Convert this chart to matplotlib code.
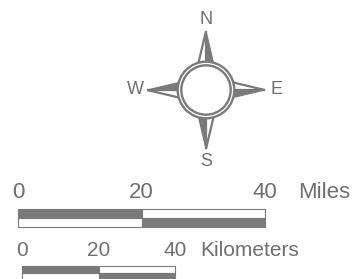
import numpy as np
from matplotlib import pyplot as plt
from matplotlib.patches import Polygon, Circle, Rectangle

plt.rcParams["font.family"] = ["Liberation Sans", "DejaVu Sans"]

# data
directions = ["N", "E", "S", "W"]
dir_vectors = [(0, -1), (1, 0), (0, 1), (-1, 0)]
mile_ticks = [0, 20, 40]
km_ticks = [0, 20, 40]
mile_unit = "Miles"
km_unit = "Kilometers"

GRAY = "#7a7a7a"
TEXT = "#6f6f6f"

fig = plt.figure(figsize=(3.59, 2.79), dpi=100)
ax = fig.add_axes([0, 0, 1, 1])
ax.set_xlim(0, 359)
ax.set_ylim(279, 0)
ax.axis("off")

# compass rose
cx, cy = 206, 90
arm_len = 59
base_r, base_w = 23, 8.5
label_r = 71
for name, (dx, dy) in zip(directions, dir_vectors):
    px, py = -dy, dx  # clockwise side
    tip = (cx + dx * arm_len, cy + dy * arm_len)
    mid = (cx + dx * base_r, cy + dy * base_r)
    cw = (mid[0] + px * base_w, mid[1] + py * base_w)
    ccw = (mid[0] - px * base_w, mid[1] - py * base_w)
    ax.add_patch(Polygon([mid, tip, cw], closed=True, fc=GRAY, ec=GRAY, lw=0.8))
    ax.add_patch(Polygon([mid, tip, ccw], closed=True, fc="white", ec=GRAY, lw=1.6,
                         joinstyle="miter"))
    ax.text(cx + dx * label_r, cy + dy * label_r, name, fontsize=13, color=TEXT,
            ha="center", va="center")

ax.add_patch(Circle((cx, cy), 29.5, fc=GRAY, ec="none"))
ax.add_patch(Circle((cx, cy), 23.5, fc="white", ec="none"))
ax.add_patch(Circle((cx, cy), 26.5, fc="none", ec="white", lw=0.9))


def scale_bar(x0, x1, ticks, unit, y_text, y_top, h, fs, unit_gap):
    span = ticks[-1] - ticks[0]
    sx = lambda v: x0 + (v - ticks[0]) * (x1 - x0) / span
    for i in range(len(ticks) - 1):
        a, b = sx(ticks[i]), sx(ticks[i + 1])
        top_c = GRAY if i % 2 == 0 else "white"
        bot_c = "white" if i % 2 == 0 else GRAY
        ax.add_patch(Rectangle((a, y_top), b - a, h, fc=top_c, ec=GRAY, lw=0.8))
        ax.add_patch(Rectangle((a, y_top + h), b - a, h, fc=bot_c, ec=GRAY, lw=0.8))
    for t in ticks:
        ax.text(sx(t), y_text, str(t), fontsize=fs, color=TEXT, ha="center", va="center")
    ax.text(x1 + unit_gap, y_text, unit, fontsize=fs, color=TEXT, ha="left", va="center")


scale_bar(18, 265, mile_ticks, mile_unit, 193, 208.5, 9.3, 16, 33)
scale_bar(22, 175, km_ticks, km_unit, 250, 265.5, 7.5, 15, 25)

fig.savefig("out.png", dpi=100)
